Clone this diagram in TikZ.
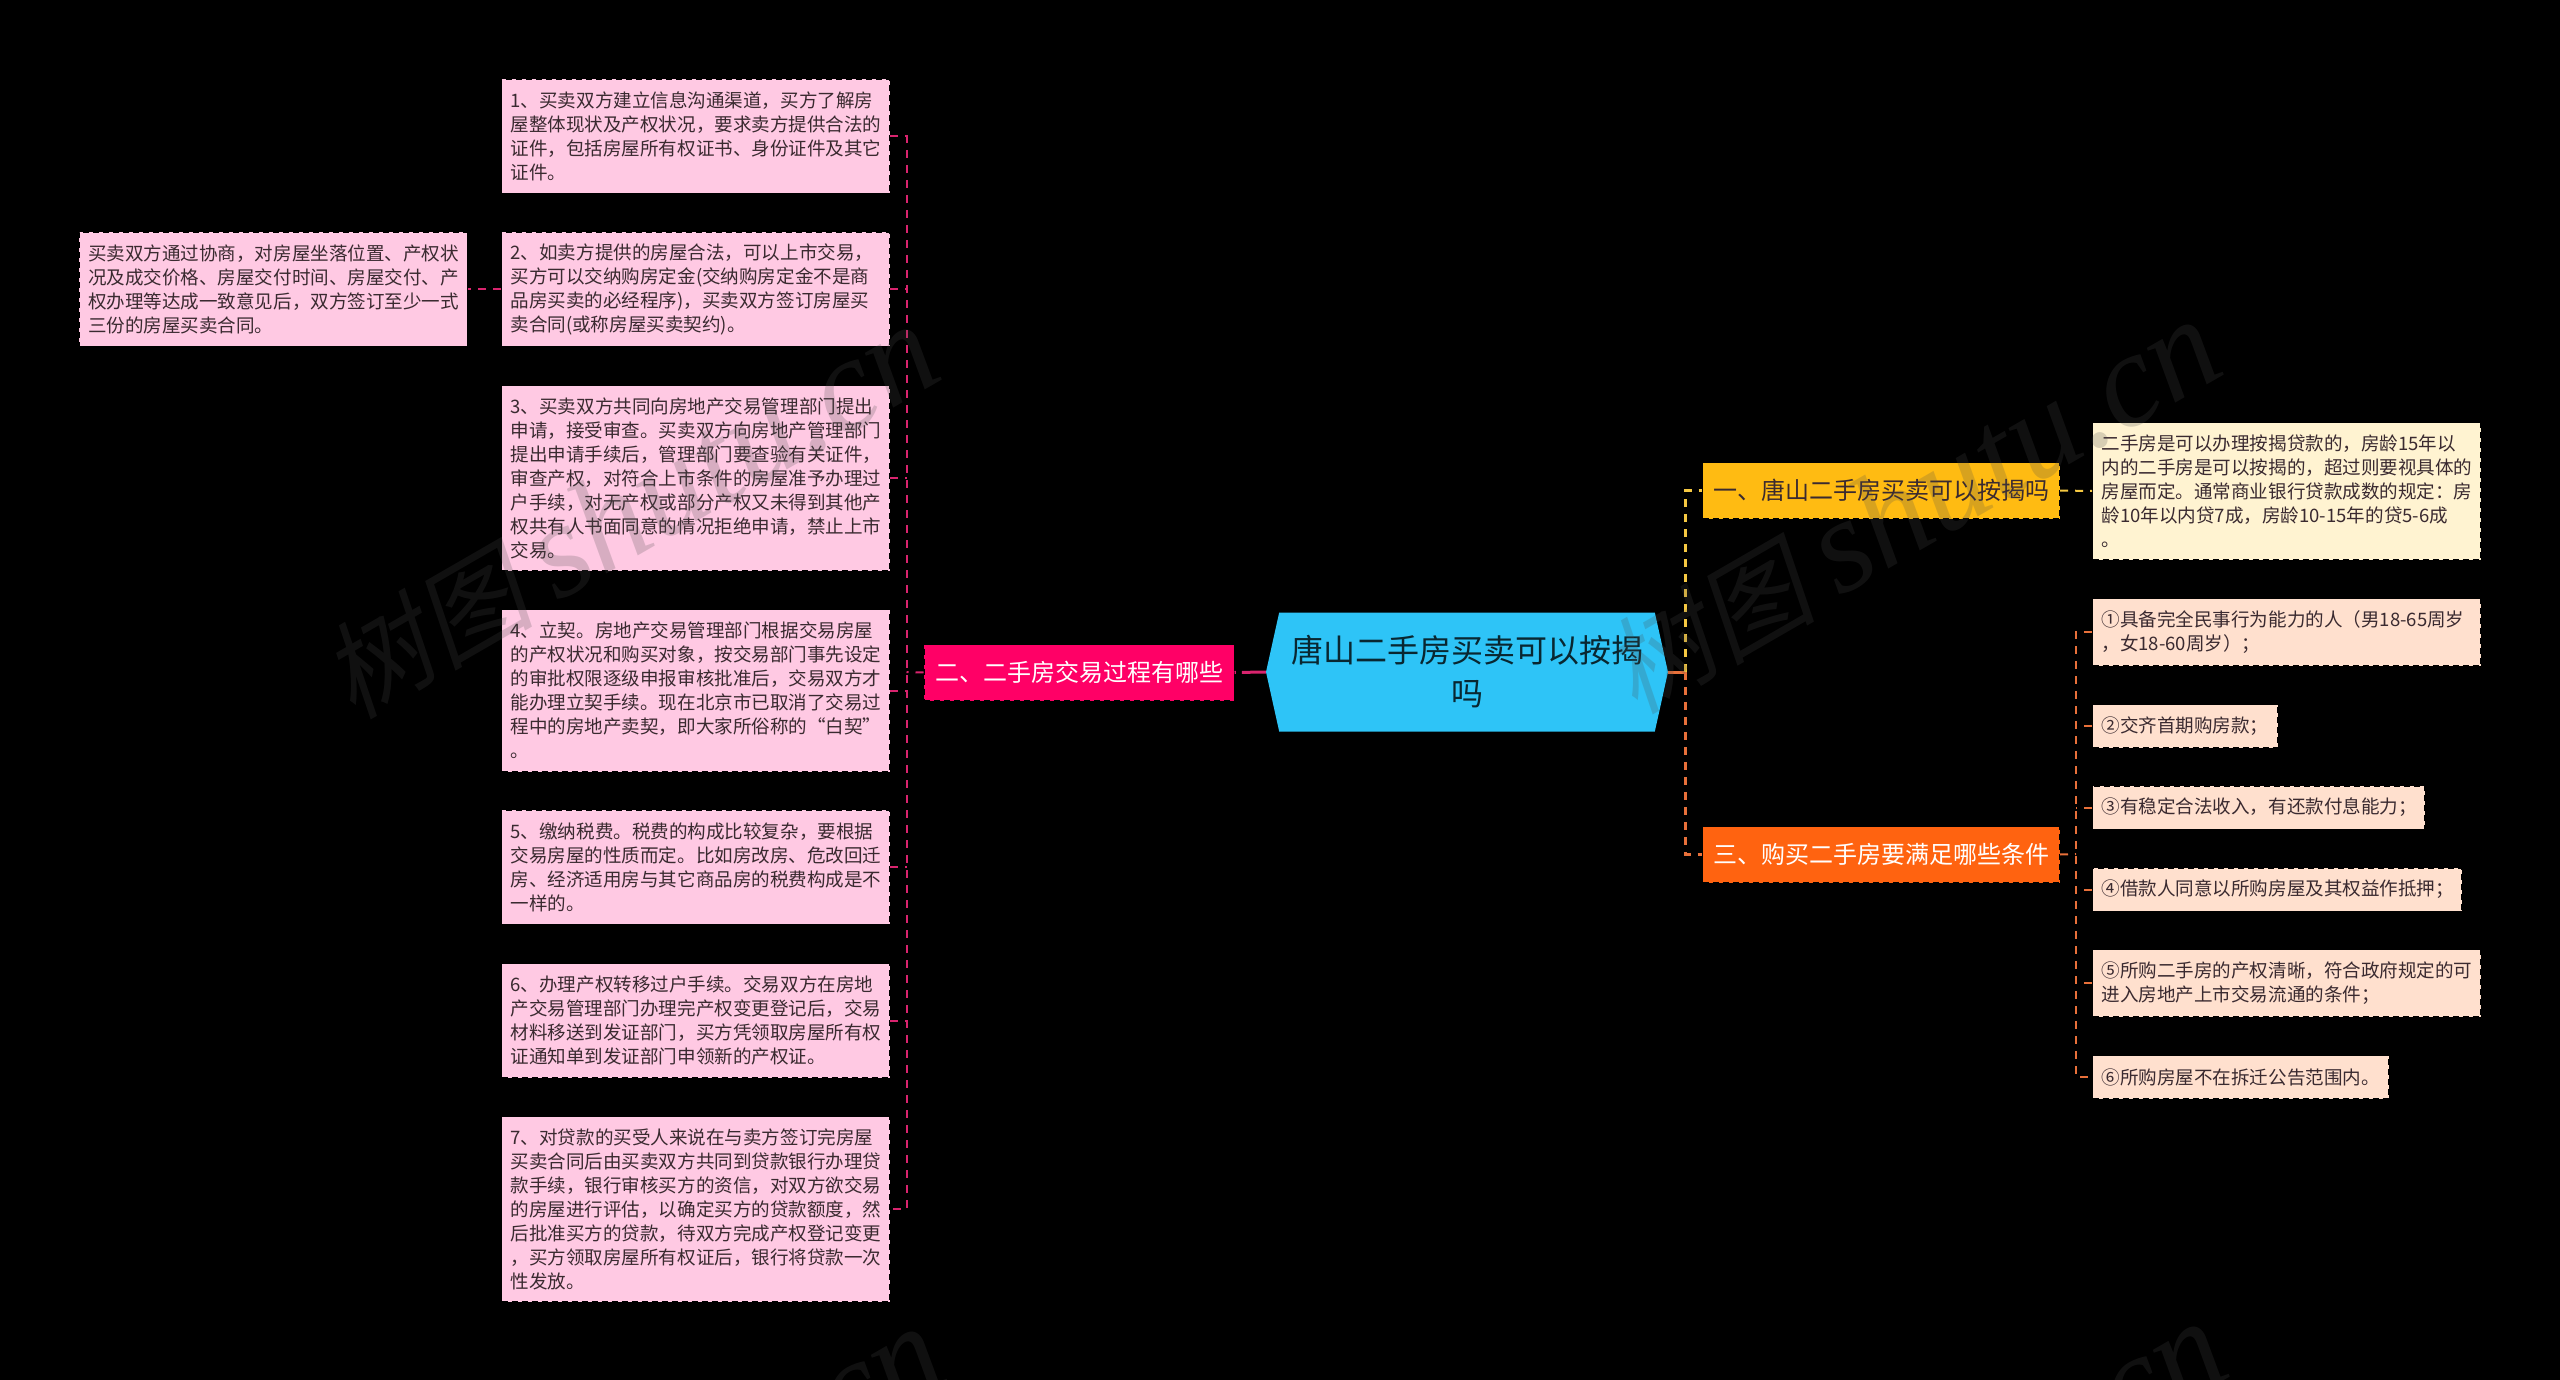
\documentclass[tikz,border=0pt]{standalone}
\usepackage{fontspec}
\usepackage{xcolor}
\usetikzlibrary{shapes.symbols}
\setmainfont{Noto Sans CJK SC}
\newfontfamily\wmcjk[FakeSlant=0.2]{Noto Sans CJK SC}
\newfontfamily\wmlatin{Liberation Serif}
\definecolor{rootblue}{RGB}{46, 196, 247}
\definecolor{secred}{RGB}{255, 0, 102}
\definecolor{secorange}{RGB}{255, 99, 16}
\definecolor{secyellow}{RGB}{255, 187, 18}
\definecolor{leafpink}{RGB}{255, 201, 227}
\definecolor{leafcream}{RGB}{255, 243, 209}
\definecolor{leafpeach}{RGB}{255, 224, 206}
\definecolor{linered}{RGB}{217, 36, 110}
\definecolor{lineorange}{RGB}{232, 112, 58}
\definecolor{lineyellow}{RGB}{245, 200, 66}
\definecolor{inkdark}{RGB}{58, 42, 48}
\definecolor{markgray}{RGB}{76, 76, 76}
\tikzset{
    secbox/.style={draw=black, dash pattern=on 6pt off 4pt, line width=1pt,
        inner xsep=0pt, inner ysep=0pt, minimum width=357pt, minimum height=56pt,
        font=\fontsize{24}{30}\selectfont, anchor=north west},
    leafbox/.style={draw=black, dash pattern=on 6pt off 4pt, line width=1pt,
        inner xsep=9pt, inner ysep=0pt, anchor=north west, align=left, text=inkdark,
        font=\fontsize{18.55}{24}\selectfont},
    conn/.style={dash pattern=on 8pt off 7pt, line width=2pt},
}
\begin{document}
\begin{tikzpicture}[x=1pt, y=-1pt]
\fill[black] (0,0) rectangle (2560,1380);
\useasboundingbox (0,0) rectangle (2560,1380);
% centre and trunks
\node[shape=signal, signal to=west and east, signal pointer angle=155, fill=rootblue,
    minimum width=402pt, minimum height=119pt, inner sep=0pt, align=center,
    text=black!80!rootblue, font=\fontsize{32}{43}\selectfont] (root) at (1467,672)
    {唐山二手房买卖可以按揭\\吗};
\coordinate (tr1) at (1685,672);
\coordinate (tr2) at (906.5,672);
\coordinate (tr3) at (2076,854);
% section boxes
\node[secbox, fill=secyellow, text=inkdark] (sec1) at (1702,462) {一、唐山二手房买卖可以按揭吗};
\node[secbox, fill=secred, text=white, minimum width=310pt] (sec2) at (923.5,644) {二、二手房交易过程有哪些};
\node[secbox, fill=secorange, text=white] (sec3) at (1702,826) {三、购买二手房要满足哪些条件};
% left side
\node[leafbox, fill=leafpink, text width=370pt, minimum height=114pt] (s1) at (501,79)
    {1、买卖双方建立信息沟通渠道，买方了解房\\屋整体现状及产权状况，要求卖方提供合法的\\证件，包括房屋所有权证书、身份证件及其它\\证件。};
\node[leafbox, fill=leafpink, text width=370pt, minimum height=114pt] (s2) at (501,232)
    {2、如卖方提供的房屋合法，可以上市交易，\\买方可以交纳购房定金(交纳购房定金不是商\\品房买卖的必经程序)，买卖双方签订房屋买\\卖合同(或称房屋买卖契约)。};
\node[leafbox, fill=leafpink, text width=370pt, minimum height=114pt] (deal) at (78.5,232)
    {买卖双方通过协商，对房屋坐落位置、产权状\\况及成交价格、房屋交付时间、房屋交付、产\\权办理等达成一致意见后，双方签订至少一式\\三份的房屋买卖合同。};
\node[leafbox, fill=leafpink, text width=370pt, minimum height=185pt] (s3) at (501,385)
    {3、买卖双方共同向房地产交易管理部门提出\\申请，接受审查。买卖双方向房地产管理部门\\提出申请手续后，管理部门要查验有关证件，\\审查产权，对符合上市条件的房屋准予办理过\\户手续，对无产权或部分产权又未得到其他产\\权共有人书面同意的情况拒绝申请，禁止上市\\交易。};
\node[leafbox, fill=leafpink, text width=370pt, minimum height=162pt] (s4) at (501,609)
    {4、立契。房地产交易管理部门根据交易房屋\\的产权状况和购买对象，按交易部门事先设定\\的审批权限逐级申报审核批准后，交易双方才\\能办理立契手续。现在北京市已取消了交易过\\程中的房地产卖契，即大家所俗称的“白契”\\。};
\node[leafbox, fill=leafpink, text width=370pt, minimum height=114pt] (s5) at (501,809.5)
    {5、缴纳税费。税费的构成比较复杂，要根据\\交易房屋的性质而定。比如房改房、危改回迁\\房、经济适用房与其它商品房的税费构成是不\\一样的。};
\node[leafbox, fill=leafpink, text width=370pt, minimum height=114pt] (s6) at (501,963)
    {6、办理产权转移过户手续。交易双方在房地\\产交易管理部门办理完产权变更登记后，交易\\材料移送到发证部门，买方凭领取房屋所有权\\证通知单到发证部门申领新的产权证。};
\node[leafbox, fill=leafpink, text width=370pt, minimum height=185pt] (s7) at (501,1116)
    {7、对贷款的买受人来说在与卖方签订完房屋\\买卖合同后由买卖双方共同到贷款银行办理贷\\款手续，银行审核买方的资信，对双方欲交易\\的房屋进行评估，以确定买方的贷款额度，然\\后批准买方的贷款，待双方完成产权登记变更\\，买方领取房屋所有权证后，银行将贷款一次\\性发放。};
% right side
\node[leafbox, fill=leafcream, text width=370pt, minimum height=137pt] (ans) at (2092,422)
    {二手房是可以办理按揭贷款的，房龄15年以\\内的二手房是可以按揭的，超过则要视具体的\\房屋而定。通常商业银行贷款成数的规定：房\\龄10年以内贷7成，房龄10-15年的贷5-6成\\。};
\node[leafbox, fill=leafpeach, text width=370pt, minimum height=67pt] (c1) at (2092,598)
    {①具备完全民事行为能力的人（男18-65周岁\\，女18-60周岁）；};
\node[leafbox, fill=leafpeach, text width=167pt, minimum height=43pt] (c2) at (2092,704) {②交齐首期购房款；};
\node[leafbox, fill=leafpeach, text width=314pt, minimum height=43pt] (c3) at (2092,785.5) {③有稳定合法收入，有还款付息能力；};
\node[leafbox, fill=leafpeach, text width=351pt, minimum height=43pt] (c4) at (2092,867.5) {④借款人同意以所购房屋及其权益作抵押；};
\node[leafbox, fill=leafpeach, text width=370pt, minimum height=67pt] (c5) at (2092,949)
    {⑤所购二手房的产权清晰，符合政府规定的可\\进入房地产上市交易流通的条件；};
\node[leafbox, fill=leafpeach, text width=278pt, minimum height=43pt] (c6) at (2092,1055) {⑥所购房屋不在拆迁公告范围内。};
% connectors
\draw[linered, line width=3pt, dash pattern=on 24pt off 6pt] (root.west) -- (sec2.east);
\draw[lineorange, line width=3pt] (root.east) -- (tr1);
\draw[lineyellow, conn, line width=3pt] (tr1) -- (tr1|-sec1.west) -- (sec1.west);
\draw[lineorange, conn, line width=3pt] (tr1) -- (tr1|-sec3.west) -- (sec3.west);
\draw[lineyellow, conn] (sec1.east) -- (ans.west);
\draw[linered, conn] (sec2.west) -- (tr2);
\draw[linered, conn] (s1.east) -- (tr2|-s1.east) -- (tr2|-s7.east) -- (s7.east);
\foreach \nd in {s2,s3,s4,s5,s6}
    \draw[linered, conn] (\nd.east) -- (tr2|-\nd.east);
\draw[linered, conn] (s2.west) -- (deal.east);
\draw[lineorange, conn] (sec3.east) -- (tr3);
\draw[lineorange, conn] (c1.west) -- (tr3|-c1.west) -- (tr3|-c6.west) -- (c6.west);
\foreach \nd in {c2,c3,c4,c5}
    \draw[lineorange, conn] (\nd.west) -- (tr3|-\nd.west);
% watermark
\foreach \wx/\wy [count=\wi] in {948/377, 2230/372, 954/1379, 2236/1374}
    \node[rotate=30, anchor=base east, inner sep=0pt, text=markgray, text opacity=0.22] (mark\wi) at (\wx,\wy)
        {\fontsize{106}{106}\selectfont\wmcjk 树图 \fontsize{134}{134}\selectfont\wmlatin\itshape shutu.cn};
\end{tikzpicture}
\end{document}
